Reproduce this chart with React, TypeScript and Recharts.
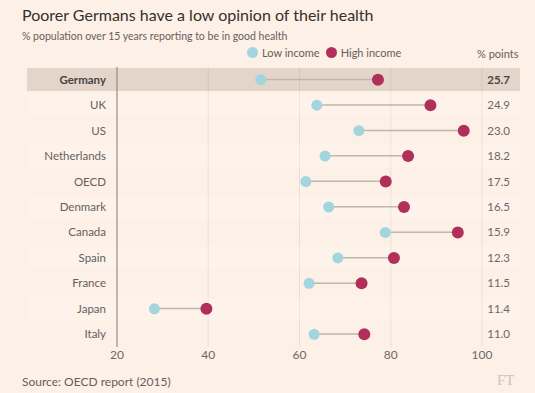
import React from 'react';
import { ComposedChart, Bar, Line, XAxis, YAxis, CartesianGrid } from 'recharts';

const countries = ['Germany', 'UK', 'US', 'Netherlands', 'OECD', 'Denmark', 'Canada', 'Spain', 'France', 'Japan', 'Italy'];
const lowIncome = [51.5, 63.8, 73.0, 65.6, 61.4, 66.4, 78.8, 68.4, 62.1, 28.2, 63.2];
const highIncome = [77.2, 88.7, 96.0, 83.8, 78.9, 82.9, 94.7, 80.7, 73.6, 39.6, 74.2];
const gaps = ['25.7', '24.9', '23.0', '18.2', '17.5', '16.5', '15.9', '12.3', '11.5', '11.4', '11.0'];
const xTicks = [20, 40, 60, 80, 100];

const data = countries.map((name, i) => ({
  name,
  low: lowIncome[i],
  high: highIncome[i],
  gap: gaps[i],
}));

const BG = '#fdf0e6';
const LOW = '#a3d5df';
const HIGH = '#b0305a';
const FONT = 'Lato, "Open Sans", sans-serif';

const RowShape = (props: any) => {
  const { x, y, width, height, index } = props;
  let fill = index % 2 === 1 ? 'rgba(255,255,255,0.2)' : 'rgba(255,255,255,0)';
  if (index === 0) fill = 'rgba(110,95,80,0.18)';
  const cy = y + height / 2;
  return (
    <g>
      <rect x={27} y={y} width={493} height={height} fill={fill} />
      <line x1={x} x2={x + width} y1={cy} y2={cy} stroke="#bfb6ae" strokeWidth={1.5} />
    </g>
  );
};

const LeftTick = (props: any) => {
  const { x, y, payload, index } = props;
  return (
    <text x={x - 3} y={y} dy={4} textAnchor="end" fontSize={11.5} fontFamily={FONT}
      fill={index === 0 ? '#4a4542' : '#66605c'} fontWeight={index === 0 ? 700 : 400}>
      {payload.value}
    </text>
  );
};

const RightTick = (props: any) => {
  const { y, index } = props;
  return (
    <text x={510} y={y} dy={4} textAnchor="end" fontSize={11.5} fontFamily={FONT}
      fill={index === 0 ? '#4a4542' : '#6e6864'} fontWeight={index === 0 ? 700 : 400}>
      {gaps[index]}
    </text>
  );
};

const Dot = (r: number, color: string) => (p: any) => (
  <circle key={`${color}-${p.index}`} cx={p.cx} cy={p.cy} r={r} fill={color} stroke="none" />
);

export default function App() {
  return (
    <div style={{ position: 'absolute', left: 0, top: 0, width: 535, height: 393, background: BG, fontFamily: FONT, overflow: 'hidden' }}>
      <div style={{ position: 'absolute', left: 22, top: 5, fontSize: 16, color: '#33302e' }}>
        Poorer Germans have a low opinion of their health
      </div>
      <div style={{ position: 'absolute', left: 22, top: 30, fontSize: 10.5, color: '#66605c' }}>
        % population over 15 years reporting to be in good health
      </div>
      <div style={{ position: 'absolute', left: 247, top: 46, fontSize: 11, color: '#66605c', display: 'flex', alignItems: 'center' }}>
        <span style={{ width: 11, height: 11, borderRadius: 6, background: LOW, marginRight: 4 }} />
        <span style={{ marginRight: 6 }}>Low income</span>
        <span style={{ width: 11, height: 11, borderRadius: 6, background: HIGH, marginRight: 4 }} />
        <span>High income</span>
      </div>
      <div style={{ position: 'absolute', left: 477, top: 47, fontSize: 11, color: '#66605c' }}>% points</div>

      <div style={{ position: 'absolute', left: 0, top: 0 }}>
        <ComposedChart width={535} height={393} data={data} layout="vertical"
          margin={{ top: 67, right: 0, bottom: 16, left: 0 }} barCategoryGap={1}>
          <CartesianGrid horizontal={false} stroke="#ebdfd4" yAxisId="left" />
          <XAxis type="number" dataKey="low" domain={[20, 100]} ticks={xTicks} axisLine={false} tickLine={false}
            tickSize={0} tickMargin={3} height={30} tick={{ fontSize: 12, fill: '#6e6864', fontFamily: FONT }} />
          <YAxis yAxisId="left" type="category" dataKey="name" width={117} axisLine={{ stroke: '#8a837e' }}
            tickLine={false} tick={<LeftTick />} interval={0} />
          <YAxis yAxisId="right" orientation="right" type="category" dataKey="name" width={53} axisLine={false}
            tickLine={false} tick={<RightTick />} interval={0} />
          <Bar yAxisId="left" dataKey={(d: any) => [d.low, d.high]} shape={<RowShape />} isAnimationActive={false} />
          <Line yAxisId="left" dataKey="low" stroke="none" dot={Dot(5.5, LOW)} activeDot={false} isAnimationActive={false} />
          <Line yAxisId="left" dataKey="high" stroke="none" dot={Dot(6, HIGH)} activeDot={false} isAnimationActive={false} />
        </ComposedChart>
      </div>

      <div style={{ position: 'absolute', left: 22, top: 374, fontSize: 12, color: '#66605c' }}>Source: OECD report (2015)</div>
      <div style={{ position: 'absolute', left: 497, top: 372, fontSize: 15, color: '#cdc3ba', fontFamily: 'Liberation Serif, serif' }}>FT</div>
    </div>
  );
}
